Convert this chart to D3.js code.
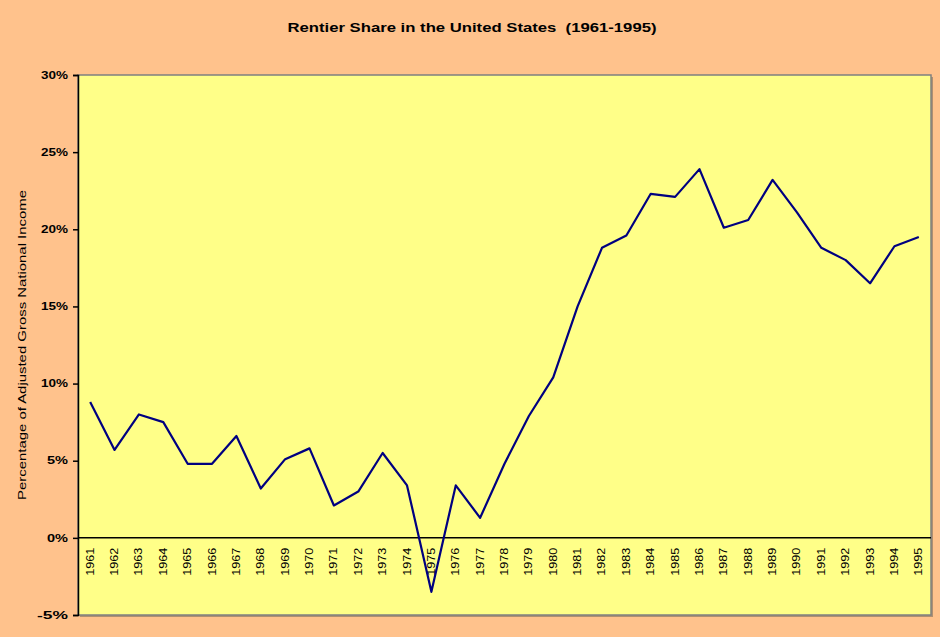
<!DOCTYPE html>
<html lang="en">
<head>
    <meta charset="UTF-8">
    <title>Rentier Share in the United States</title>
    <script src="https://d3js.org/d3.v7.min.js"></script>
    <style>
        body { margin: 0; background: #ffc28c; }
        text { font-family: Arial, "Liberation Sans", sans-serif; fill: #000; }
        .tick-label { font-size: 10px; font-weight: bold; }
        .year-label { font-size: 10px; }
    </style>
</head>
<body>
    <script>
    // years on the category axis
    const years = d3.range(1961, 1996).map(String);

    // rentier share, percent of adjusted GNI
    const shareValues = [
        8.8, 5.7, 8.0, 7.5, 4.8, 4.8, 6.6, 3.2, 5.1, 5.8,
        2.1, 3.0, 5.5, 3.4, -3.5, 3.4, 1.3, 4.8, 7.9, 10.4,
        15.0, 18.8, 19.6, 22.3, 22.1, 23.9, 20.1, 20.6, 23.2, 21.1,
        18.8, 18.0, 16.5, 18.9, 19.5
    ];

    const yTicks = [-5, 0, 5, 10, 15, 20, 25, 30];

    const width = 940;
    const height = 637;
    const plot = { left: 78, top: 75, right: 931, bottom: 615 };

    const svg = d3.select("body").append("svg")
        .attr("width", width)
        .attr("height", height);

    svg.append("rect")
        .attr("width", width)
        .attr("height", height)
        .attr("fill", "#ffc28c");

    const x = d3.scaleBand()
        .domain(years)
        .range([plot.left, plot.right]);

    const y = d3.scaleLinear()
        .domain([-5, 30])
        .range([plot.bottom, plot.top]);

    // shadow + plot area
    svg.append("rect")
        .attr("x", plot.left + 2)
        .attr("y", plot.top + 2)
        .attr("width", plot.right - plot.left)
        .attr("height", plot.bottom - plot.top)
        .attr("fill", "#b09070");

    svg.append("rect")
        .attr("x", plot.left)
        .attr("y", plot.top)
        .attr("width", plot.right - plot.left)
        .attr("height", plot.bottom - plot.top)
        .attr("fill", "#ffff88")
        .attr("stroke", "#808080")
        .attr("stroke-width", 1.5);

    // y axis
    const yAxis = svg.append("g")
        .attr("transform", `translate(${plot.left},0)`)
        .call(d3.axisLeft(y)
            .tickValues(yTicks)
            .tickSize(5)
            .tickPadding(5)
            .tickFormat(d => d + "%"));
    yAxis.select(".domain").attr("stroke", "#000").attr("stroke-width", 1.5);
    yAxis.selectAll(".tick line").attr("stroke", "#000").attr("stroke-width", 1.5);
    yAxis.selectAll(".tick text")
        .attr("class", "tick-label")
        .attr("font-family", null)
        .attr("font-size", null)
        .attr("textLength", d => d < 0 ? 31 : (Math.abs(d) >= 10 ? 27 : 21))
        .attr("lengthAdjust", "spacingAndGlyphs");

    // zero line
    svg.append("line")
        .attr("x1", plot.left)
        .attr("x2", plot.right)
        .attr("y1", y(0))
        .attr("y2", y(0))
        .attr("stroke", "#000")
        .attr("stroke-width", 1.5);

    // year labels, rotated, just under the zero line
    svg.append("g")
        .selectAll("text")
        .data(years)
        .join("text")
        .attr("class", "year-label")
        .attr("transform", d => `translate(${x(d) + x.bandwidth() / 2 + 3.5},${y(0) + 10}) rotate(-90)`)
        .attr("text-anchor", "end")
        .attr("textLength", 28)
        .attr("lengthAdjust", "spacingAndGlyphs")
        .text(d => d);

    // data line
    const line = d3.line()
        .x((d, i) => x(years[i]) + x.bandwidth() / 2)
        .y(d => y(d));

    svg.append("path")
        .datum(shareValues)
        .attr("fill", "none")
        .attr("stroke", "#000080")
        .attr("stroke-width", 2.2)
        .attr("stroke-linejoin", "round")
        .attr("d", line);

    // title
    svg.append("text")
        .attr("x", 472)
        .attr("y", 32)
        .attr("text-anchor", "middle")
        .attr("font-size", 13)
        .attr("font-weight", "bold")
        .attr("textLength", 369)
        .attr("lengthAdjust", "spacingAndGlyphs")
        .style("white-space", "pre")
        .text("Rentier Share in the United States  (1961-1995)");

    // y axis title
    svg.append("text")
        .attr("transform", "translate(26,345) rotate(-90)")
        .attr("text-anchor", "middle")
        .attr("font-size", 11)
        .attr("textLength", 310)
        .attr("lengthAdjust", "spacingAndGlyphs")
        .text("Percentage of Adjusted Gross National Income");
    </script>
</body>
</html>
